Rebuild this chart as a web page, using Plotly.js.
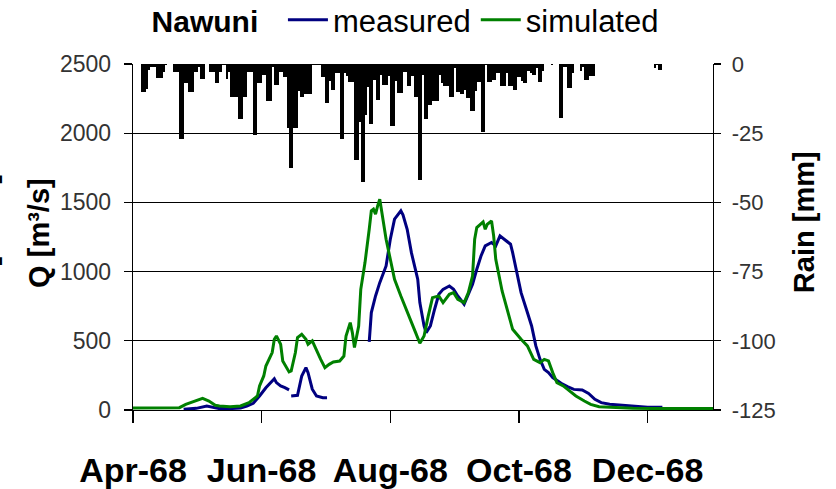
<!DOCTYPE html>
<html>
<head>
<meta charset="utf-8">
<script src="https://cdn.plot.ly/plotly-3.0.1.min.js"></script>
<style>html,body{margin:0;padding:0;background:#fff;}#chart{width:836px;height:489px;}</style>
</head>
<body>
<div id="chart"></div>
<script>
// ---- data ----
const stationName = 'Nawuni';
const startDate = '1968-04-01';            // day 0 of every day-offset array
const xTickVals = ['1968-04-01','1968-06-01','1968-08-01','1968-10-01','1968-12-01'];
const xTickText = ['Apr-68','Jun-68','Aug-68','Oct-68','Dec-68'];
const qTickVals = [0,500,1000,1500,2000,2500];
const qTickText = ['0','500','1000','1500','2000','2500'];
const rainTickVals = [-125,-100,-75,-50,-25,0];
const rainTickText = ['-125','-100','-75','-50','-25','0'];

// daily rain [mm], plotted downward (negative), day 0 = 1 Apr 1968
const rainMm = [
 0,0,0,0,-10,-10,-9,-2,-1,-1,
 -1,-5,-5,-5,-3,-0.5,0,0,0,-3,
 -3,-3,-27,-27,-7,-7,-10,-10,-10,-3,
 -3,-1,-5.5,-5.5,0,0,-3,-3,-3,-7,
 -7,-3,-0.5,-0.5,-5.5,-3,-12,-12,-12,-12,
 -20,-20,-12,-12,-3,-3,-3,-25.5,-25.5,-7,
 -7,-4,-4,-13.5,-13.5,-13.5,-1,-7.5,-7.5,-3,
 -3,-4.6,-4.6,-23,-37.6,-37.6,-23,-23,-9.8,-12,
 -12,-11,-11,-11,-11,-0.5,-0.5,-0.5,-0.5,-4.6,
 -4.6,-14,-14,-6.3,-9.3,-9.3,-3.3,-3.3,-27,-27,
 -3.3,-4.5,-6.5,-6.5,-6.5,-34.6,-34.6,-21,-42.6,-42.6,
 -18.3,-8.4,-21.7,-21.7,-5.7,-12.9,-12.9,-3.9,-7.5,-7.5,
 -7.5,-4.5,-22.5,-22.5,-6.3,-10.5,-10.5,-10.5,-2.9,-2.9,
 -8,-8,-4.5,-12,-12,-41.8,-41.8,-3.9,-20,-20,
 -14.7,-14.7,-13.5,-13.5,-13.5,-3.9,-6.9,-8,-8,-8,
 -12,-12,-1.4,-10,-10,-10.8,-10.8,-9.3,-12.3,-12.3,
 -16.9,-16.9,-9.9,-6.5,-6.5,-24.6,-24.6,-0.2,-6.5,-6.5,
 -5.7,-5.7,-3.3,-3.3,-8,-8,-8,-3.3,-8,-8,
 -9.3,-9.3,-4.8,-4.8,-6.3,-6.9,-6.9,-2.4,-3.3,-3.9,
 -3.9,-1.4,-6.5,-6.5,-2.7,0,0,0,-0.3,0,
 0,0,-19.5,-19.5,-1.2,-1.2,-8.7,-8.7,-3.3,0,
 0,0,-2.7,-1.2,-5.7,-5.7,-4.5,-4.5,-4.5,0,
 0,0,0,0,0,0,0,0,0,0,
 0,0,0,0,0,0,0,0,0,0,
 0,0,0,0,0,0,0,-1.4,-0.5,-2,
 -2,0,0,0,0,0,0,0,0,0,
 0,0,0,0,0,0,0,0,0,0,
 0,0,0,0,0
];

// measured discharge [m3/s] (null = gap in record)
const measDay = [24,30,35,38,41,46,51,54,57,60,63,66,67,68,70,72,74,
  null,
  75,78,80,82,83,85,87,90,92,
  null,
  112,113,115,117,120,122,124,127,128,130,132,135,136,138,139,141,143,145,147,150,152,154,157,159,161,163,165,167,170,172,174,176,179,180,182,184,187,189,191,193,195,197,199,203,206,209,213,216,219,222,226,231,237,244,251];
const measQ = [5,12,29,17,10,10,14,29,48,101,161,210,226,198,174,161,145,
  null,
  101,106,246,306,270,150,101,89,89,
  null,
  492,704,824,920,1041,1234,1379,1439,1410,1306,1137,945,776,607,559,607,728,836,872,896,872,824,764,836,908,1017,1113,1186,1210,1186,1258,1234,1198,1137,993,848,704,607,463,366,294,270,234,193,169,149,145,120,77,53,41,34,24,19,19];

// simulated discharge [m3/s]
const simDay = [0,22,25,29,33,36,39,41,46,51,55,59,60,62,63,66,67,68,70,71,74,75,77,78,80,82,83,85,86,89,91,93,95,98,100,101,103,104,105,107,108,110,112,113,114,115,116,117,118,120,122,124,127,129,131,134,136,138,140,142,145,147,150,152,154,157,159,161,162,163,166,167,168,170,171,172,175,177,180,184,187,190,193,195,197,199,201,204,207,210,214,217,221,228,237,253,275];
const simQ = [15,17,41,65,84,65,34,29,24,29,53,101,174,246,318,415,511,535,475,354,275,282,415,523,547,511,475,499,463,366,306,330,347,354,390,535,631,559,451,607,872,1065,1306,1439,1451,1415,1475,1523,1427,1234,1089,945,824,752,680,559,482,535,680,812,824,776,836,848,800,776,848,969,1234,1318,1359,1306,1342,1366,1258,1089,860,752,583,511,463,366,342,366,355,270,198,174,137,101,65,41,24,17,12,10,10];

// ---- helpers ----
const t0 = Date.parse(startDate + 'T00:00:00Z');
function dayToDate(d) {
  if (d === null) return null;
  return new Date(t0 + d * 86400000).toISOString().slice(0,19).replace('T',' ');
}
const FONT = 'Liberation Sans, Arial, sans-serif';

const traces = [
  {
    type: 'bar', name: 'rain', showlegend: false,
    x: rainMm.map((v,i) => dayToDate(i + 0.5)), y: rainMm, yaxis: 'y2',
    marker: {color: '#000000', line: {width: 0}},
    hoverinfo: 'skip'
  },
  {
    type: 'scatter', mode: 'lines', name: 'measured',
    x: measDay.map(dayToDate), y: measQ, connectgaps: false,
    line: {color: '#000080', width: 3}
  },
  {
    type: 'scatter', mode: 'lines', name: 'simulated',
    x: simDay.map(dayToDate), y: simQ,
    line: {color: '#008000', width: 3}
  }
];

const layout = {
  width: 836, height: 489,
  margin: {l: 133, r: 123, t: 64, b: 79, pad: 0, autoexpand: false},
  paper_bgcolor: '#ffffff', plot_bgcolor: '#ffffff',
  font: {family: FONT, color: '#000'},
  bargap: 0,
  showlegend: true,
  legend: {
    orientation: 'h', x: 0.0286, y: 1.127, xanchor: 'left', yanchor: 'middle',
    bgcolor: 'rgba(0,0,0,0)', borderwidth: 0, itemwidth: 40,
    font: {family: FONT, size: 31, color: '#000'},
    title: {text: stationName + '\u00A0\u00A0', side: 'left', font: {family: FONT, size: 30, color: '#000', weight: 'bold'}},
    traceorder: 'normal'
  },
  xaxis: {
    type: 'date', range: ['1968-04-01', '1969-01-01'],
    tickmode: 'array', tickvals: xTickVals, ticktext: xTickText,
    ticks: 'outside', ticklen: 12, tickwidth: 1.3, tickcolor: '#000',
    showline: true, linecolor: '#000', linewidth: 1.3,
    showgrid: false, zeroline: false,
    tickfont: {family: FONT, size: 34, color: '#000', weight: 'bold'},
    ticklabelstandoff: 18
  },
  yaxis: {
    range: [0, 2500], tickmode: 'array', tickvals: qTickVals, ticktext: qTickText,
    ticks: 'outside', ticklen: 8, tickwidth: 1.3, tickcolor: '#000',
    showline: true, linecolor: '#000', linewidth: 1.3,
    showgrid: true, gridcolor: '#000', gridwidth: 1.2, zeroline: false,
    tickfont: {family: FONT, size: 23, color: '#333'},
    ticklabelstandoff: 8
  },
  yaxis2: {
    overlaying: 'y', side: 'right', range: [-125, 0],
    tickmode: 'array', tickvals: rainTickVals, ticktext: rainTickText,
    ticks: 'outside', ticklen: 7, tickwidth: 1.3, tickcolor: '#000',
    showline: true, linecolor: '#000', linewidth: 1.3,
    showgrid: false, zeroline: false,
    tickfont: {family: FONT, size: 22, color: '#333'},
    ticklabelstandoff: 6
  },
  annotations: [
    {text: 'Q [m³/s]', xref: 'paper', yref: 'paper', x: -0.162, y: 0.512, textangle: -90,
     showarrow: false, xanchor: 'center', yanchor: 'middle',
     font: {family: FONT, size: 29, color: '#000', weight: 'bold'}},
    {text: 'Rain [mm]', xref: 'paper', yref: 'paper', x: 1.157, y: 0.543, textangle: -90,
     showarrow: false, xanchor: 'center', yanchor: 'middle',
     font: {family: FONT, size: 29, color: '#000', weight: 'bold'}},
    {text: '[', xref: 'paper', yref: 'paper', x: -0.253, y: 0.43, textangle: -90,
     showarrow: false, xanchor: 'center', yanchor: 'middle',
     font: {family: FONT, size: 29, color: '#000', weight: 'bold'}},
    {text: ']', xref: 'paper', yref: 'paper', x: -0.253, y: 0.67, textangle: -90,
     showarrow: false, xanchor: 'center', yanchor: 'middle',
     font: {family: FONT, size: 29, color: '#000', weight: 'bold'}}
  ]
};

Plotly.newPlot('chart', traces, layout, {staticPlot: true, displayModeBar: false});
</script>
</body>
</html>
